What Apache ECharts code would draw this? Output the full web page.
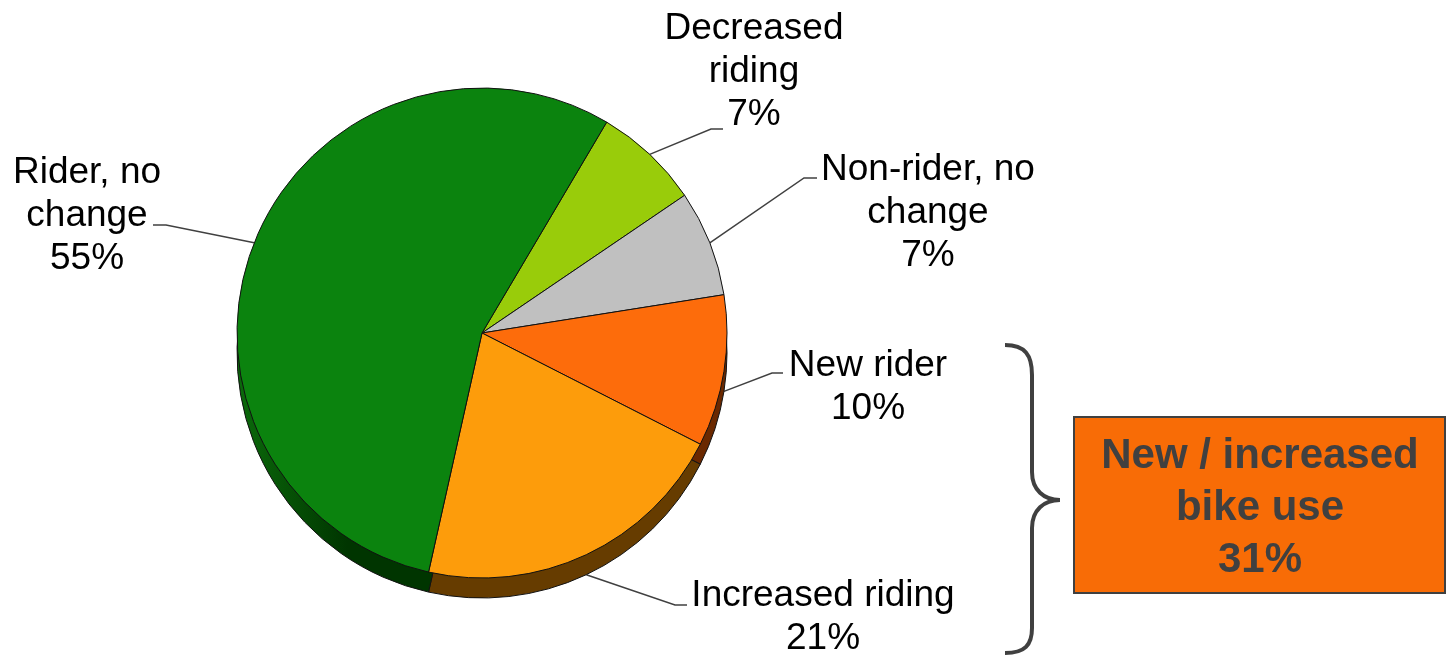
<!DOCTYPE html>
<html>
<head>
<meta charset="utf-8">
<script src="https://cdn.jsdelivr.net/npm/echarts@6/dist/echarts.min.js"></script>
<style>
  html, body { margin: 0; padding: 0; background: #fff; }
  #chart { width: 1447px; height: 656px; }
</style>
</head>
<body>
<div id="chart"></div>
<script>
const categories = ['Decreased\nriding', 'Non-rider, no\nchange', 'New rider', 'Increased riding', 'Rider, no\nchange']
const shares = [7, 7, 10, 21, 55]
const groupedNames = ['New rider', 'Increased riding']
const groupTitle = 'New / increased\nbike use'

const topColors = ['#99cc0a', '#c0c0c0', '#fd6c0b', '#fd9c0b', '#0b830e']
const sideColors = [
  '#4a6300', '#5f5f5f', '#6a2800', '#663c00',
  new echarts.graphic.LinearGradient(0, 0, 1, 0, [
    {offset: 0, color: '#0b6a0b'},
    {offset: 0.3, color: '#003500'},
    {offset: 1, color: '#003500'},
  ]),
]

const font = '"Liberation Sans", Arial, sans-serif'
const center = [482, 333]
const radius = 245
const depth = 20

// where each label block sits, and where its leader line meets the text
const labelSpots = [
  {x: 754, y: 72, end: [723, 129], bend: -12},
  {x: 928, y: 213, end: [817, 178], bend: -13},
  {x: 868, y: 387, end: [783, 373], bend: -11},
  {x: 823, y: 617, end: [687, 605], bend: -12},
  {x: 87, y: 216, end: [153, 225], bend: 13},
]

const groupShare = groupedNames.reduce((sum, name) => {
  return sum + shares[categories.indexOf(name)]
}, 0)

const pieData = categories.map((name, i) => ({
  name: name,
  value: shares[i],
  itemStyle: {color: topColors[i]},
}))
const sideData = categories.map((name, i) => ({
  name: name,
  value: shares[i],
  itemStyle: {color: sideColors[i]},
}))

const braceStyle = {fill: 'none', stroke: '#404040', lineWidth: 4}

const chart = echarts.init(document.getElementById('chart'))
chart.setOption({
  animation: false,
  series: [
    {
      type: 'pie',
      silent: true,
      clockwise: true,
      startAngle: 59.4,
      center: [center[0], center[1] + depth],
      radius: radius,
      label: {show: false},
      labelLine: {show: false},
      itemStyle: {borderColor: '#111', borderWidth: 1},
      data: sideData,
    },
    {
      type: 'pie',
      clockwise: true,
      startAngle: 59.4,
      center: center,
      radius: radius,
      itemStyle: {borderColor: '#111', borderWidth: 1},
      label: {
        show: true,
        position: 'outside',
        formatter: '{b}\n{c}%',
        color: '#000',
        fontFamily: font,
        fontSize: 37,
        lineHeight: 43,
        align: 'center',
      },
      labelLine: {
        show: true,
        lineStyle: {color: '#404040', width: 1.5},
      },
      labelLayout: params => {
        const spot = labelSpots[params.dataIndex]
        const start = params.labelLinePoints
          ? params.labelLinePoints[0].slice()
          : [spot.end[0], spot.end[1]]
        if (start[1] > center[1]) {
          start[1] += depth
        }
        return {
          x: spot.x,
          y: spot.y,
          align: 'center',
          verticalAlign: 'middle',
          labelLinePoints: [
            start,
            [spot.end[0] + spot.bend, spot.end[1]],
            spot.end,
          ],
        }
      },
      data: pieData,
    },
  ],
  graphic: [
    {
      type: 'group',
      children: [
        {type: 'bezierCurve', shape: {x1: 1005, y1: 345, cpx1: 1025, cpy1: 345, cpx2: 1032, cpy2: 355, x2: 1032, y2: 375}, style: braceStyle},
        {type: 'line', shape: {x1: 1032, y1: 375, x2: 1032, y2: 472}, style: braceStyle},
        {type: 'bezierCurve', shape: {x1: 1032, y1: 472, cpx1: 1032, cpy1: 490, cpx2: 1044, cpy2: 500, x2: 1060, y2: 500}, style: braceStyle},
        {type: 'bezierCurve', shape: {x1: 1060, y1: 500, cpx1: 1044, cpy1: 500, cpx2: 1032, cpy2: 510, x2: 1032, y2: 528}, style: braceStyle},
        {type: 'line', shape: {x1: 1032, y1: 528, x2: 1032, y2: 628}, style: braceStyle},
        {type: 'bezierCurve', shape: {x1: 1032, y1: 628, cpx1: 1032, cpy1: 645, cpx2: 1025, cpy2: 653, x2: 1005, y2: 653}, style: braceStyle},
      ],
    },
    {
      type: 'rect',
      shape: {x: 1074, y: 417, width: 371, height: 176},
      style: {fill: '#f86c06', stroke: '#404040', lineWidth: 2},
    },
    {
      type: 'text',
      x: 1260,
      y: 508,
      style: {
        text: groupTitle + '\n' + groupShare + '%',
        fill: '#404040',
        font: 'bold 42px ' + font,
        lineHeight: 52,
        align: 'center',
        verticalAlign: 'middle',
      },
    },
  ],
})
</script>
</body>
</html>
